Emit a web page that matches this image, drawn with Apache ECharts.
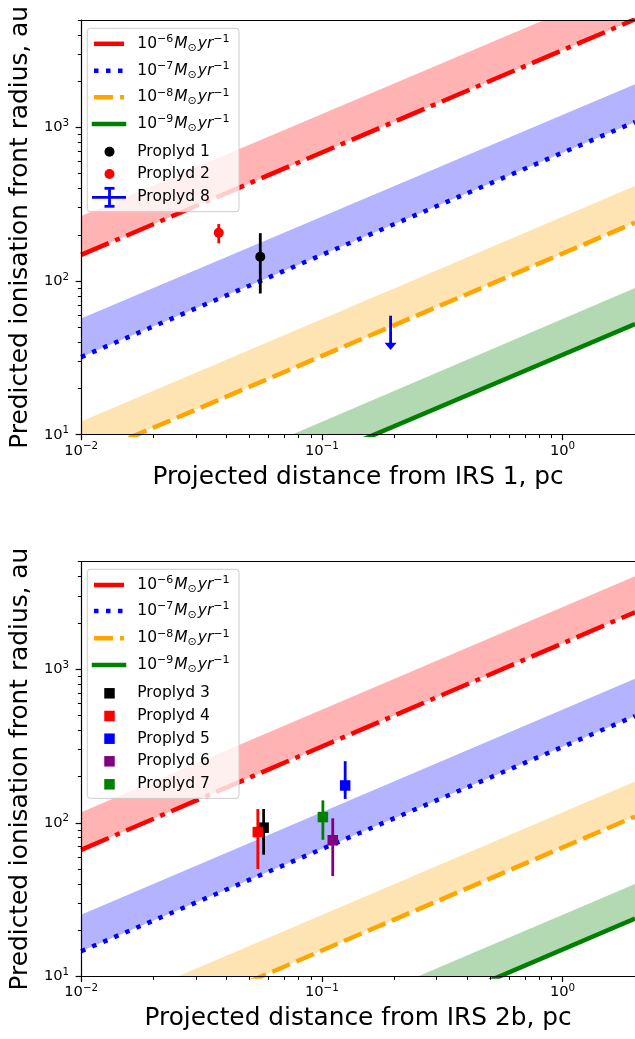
<!DOCTYPE html>
<html>
<head>
<meta charset="utf-8">
<script src="https://cdn.jsdelivr.net/npm/echarts@6/dist/echarts.min.js"></script>
<style>
  html, body { margin: 0; padding: 0; background: #ffffff; }
  #chart { width: 635px; height: 1039px; }
</style>
</head>
<body>
<div id="chart"></div>
<script>
// Projected distance range covered by the model curves (pc)
const distanceEnds = [0.01, 2];

// Mass-loss rates of the model curves (log10 of Msun/yr)
const massLossExponents = [-6, -7, -8, -9];

// IRS 1 panel: predicted ionisation-front radius (au) at the two distance ends
const irs1Model6 = [148, 5050];
const irs1Model7 = [32, 1085];
const irs1Model8 = [7.0, 240];
const irs1Model9 = [1.55, 52.5];
// upper edge of the shaded range for each rate
const irs1Upper6 = [265, 8900];
const irs1Upper7 = [57, 1910];
const irs1Upper8 = [12.2, 415];
const irs1Upper9 = [2.6, 90];

// IRS 2b panel
const irs2bModel6 = [66.7, 2345];
const irs2bModel7 = [14.6, 495];
const irs2bModel8 = [3.15, 110];
const irs2bModel9 = [0.69, 23.8];
const irs2bUpper6 = [117, 4020];
const irs2bUpper7 = [25.2, 865];
const irs2bUpper8 = [5.4, 186];
const irs2bUpper9 = [1.17, 40];

// Proplyds measured around IRS 1
const irs1Names = ['Proplyd 1', 'Proplyd 2'];
const irs1Distance = [0.0555, 0.0373];
const irs1Radius = [144, 206];
const irs1RadiusLow = [83, 176];
const irs1RadiusHigh = [205, 235];

// Proplyd 8: upper limit only
const limitNames = ['Proplyd 8'];
const limitDistance = [0.193];
const limitRadius = [59.5];
const limitArrowTip = [35.6];

// Proplyds measured around IRS 2b
const irs2bNames = ['Proplyd 3', 'Proplyd 4', 'Proplyd 5', 'Proplyd 6', 'Proplyd 7'];
const irs2bDistance = [0.0573, 0.0542, 0.125, 0.111, 0.101];
const irs2bRadius = [93, 87, 175, 77, 109];
const irs2bRadiusLow = [62, 50, 143, 45, 77.5];
const irs2bRadiusHigh = [123, 123, 252, 107, 140];

// Axis ticks
const xMajorTicks = [0.01, 0.1, 1];
const xMinorTicks = [0.02, 0.03, 0.04, 0.05, 0.06, 0.07, 0.08, 0.09,
                     0.2, 0.3, 0.4, 0.5, 0.6, 0.7, 0.8, 0.9, 2];
const yMajorTicks = [10, 100, 1000];
const yMinorTicks = [20, 30, 40, 50, 60, 70, 80, 90,
                     200, 300, 400, 500, 600, 700, 800, 900,
                     2000, 3000, 4000, 5000];
const xRange = [0.01, 2];
const yRange = [10, 5000];

// Styles
const FONT = 'DejaVu Sans';
const rateColors = ['#ff0000', '#0000ff', '#ffa500', '#008000'];
const bandColors = ['#ffb3b3', '#b3b3ff', '#ffe4b3', '#b3d9b3'];
const rateDash = [[30, 7, 5, 7], [4.5, 7.5], [19, 7], 'solid'];
const irs1Colors = ['#000000', '#ff0000'];
const limitColors = ['#0000ff'];
const irs2bColors = ['#000000', '#ff0000', '#0000ff', '#800080', '#008000'];

const panels = [
  {
    grid: { left: 79, top: 20, width: 557.6, height: 414.7 },
    xName: 'Projected distance from IRS 1, pc',
    models: [irs1Model6, irs1Model7, irs1Model8, irs1Model9],
    uppers: [irs1Upper6, irs1Upper7, irs1Upper8, irs1Upper9]
  },
  {
    grid: { left: 79, top: 561.7, width: 557.6, height: 414.8 },
    xName: 'Projected distance from IRS 2b, pc',
    models: [irs2bModel6, irs2bModel7, irs2bModel8, irs2bModel9],
    uppers: [irs2bUpper6, irs2bUpper7, irs2bUpper8, irs2bUpper9]
  }
];

const tickRich = {
  b: { fontSize: 14.7, fontFamily: FONT, color: '#000' },
  s: { fontSize: 10.3, fontFamily: FONT, color: '#000', padding: [0, 0, 8, 0] }
};
function powerLabel(value) {
  const e = Math.round(Math.log10(value));
  return '{b|10}{s|' + (e < 0 ? '\u2212' : '') + Math.abs(e) + '}';
}

// Sutherland-Hodgman clipping of a polygon against the plotting rectangle
function clipPolygon(points, rect) {
  const edges = [
    [p => p[0] >= rect.x, (a, b) => { const t = (rect.x - a[0]) / (b[0] - a[0]); return [rect.x, a[1] + t * (b[1] - a[1])]; }],
    [p => p[0] <= rect.x + rect.width, (a, b) => { const xx = rect.x + rect.width; const t = (xx - a[0]) / (b[0] - a[0]); return [xx, a[1] + t * (b[1] - a[1])]; }],
    [p => p[1] >= rect.y, (a, b) => { const t = (rect.y - a[1]) / (b[1] - a[1]); return [a[0] + t * (b[0] - a[0]), rect.y]; }],
    [p => p[1] <= rect.y + rect.height, (a, b) => { const yy = rect.y + rect.height; const t = (yy - a[1]) / (b[1] - a[1]); return [a[0] + t * (b[0] - a[0]), yy]; }]
  ];
  let out = points;
  edges.forEach(([inside, cut]) => {
    const input = out;
    out = [];
    for (let i = 0; i < input.length; i++) {
      const cur = input[i];
      const prev = input[(i + input.length - 1) % input.length];
      if (inside(cur)) {
        if (!inside(prev)) out.push(cut(prev, cur));
        out.push(cur);
      } else if (inside(prev)) {
        out.push(cut(prev, cur));
      }
    }
  });
  return out;
}

const xAxes = [];
const yAxes = [];
const series = [];
const minorTickStyle = { show: true, length: 3.3, lineStyle: { color: '#000', width: 1 } };
const spine = { show: true, onZero: false, lineStyle: { color: '#000', width: 1.2 } };
const noSpine = { show: false, onZero: false };

panels.forEach((panel, p) => {
  const xMain = xAxes.length;
  xAxes.push({
    type: 'log', logBase: 10, gridIndex: p, position: 'bottom', min: xRange[0], max: xRange[1], z: 10,
    axisLine: spine,
    axisTick: { show: true, customValues: xMajorTicks, length: 5.5, lineStyle: { color: '#000', width: 1.2 } },
    axisLabel: { customValues: xMajorTicks, formatter: powerLabel, rich: tickRich, margin: 7 },
    splitLine: { show: false },
    name: panel.xName, nameLocation: 'middle', nameGap: 30,
    nameTextStyle: { fontSize: 24.8, fontFamily: FONT, color: '#000' }
  });
  // minor ticks, laid out on a decade (log10) scale spanning the same range
  xAxes.push({
    type: 'value', gridIndex: p, position: 'bottom', offset: 0,
    min: Math.log10(xRange[0]), max: Math.log10(xRange[1]), z: 10,
    axisLine: noSpine,
    axisTick: Object.assign({ customValues: xMinorTicks.map(Math.log10) }, minorTickStyle),
    axisLabel: { show: false }, splitLine: { show: false }
  });
  xAxes.push({
    type: 'log', logBase: 10, gridIndex: p, position: 'top', min: xRange[0], max: xRange[1], z: 10,
    axisLine: spine,
    axisTick: { show: false }, axisLabel: { show: false }, splitLine: { show: false }
  });
  const yMain = yAxes.length;
  yAxes.push({
    type: 'log', logBase: 10, gridIndex: p, position: 'left', min: yRange[0], max: yRange[1], z: 10,
    axisLine: spine,
    axisTick: { show: true, customValues: yMajorTicks, length: 5.5, lineStyle: { color: '#000', width: 1.2 } },
    axisLabel: { customValues: yMajorTicks, formatter: powerLabel, rich: tickRich, margin: 12 },
    splitLine: { show: false },
    name: 'Predicted ionisation front radius, au', nameLocation: 'middle', nameGap: 43,
    nameTextStyle: { fontSize: 24.8, fontFamily: FONT, color: '#000' }
  });
  yAxes.push({
    type: 'value', gridIndex: p, position: 'left', offset: 0,
    min: Math.log10(yRange[0]), max: Math.log10(yRange[1]), z: 10,
    axisLine: noSpine,
    axisTick: Object.assign({ customValues: yMinorTicks.map(Math.log10) }, minorTickStyle),
    axisLabel: { show: false }, splitLine: { show: false }
  });

  // shaded ranges
  panel.models.forEach((model, k) => {
    series.push({
      type: 'custom', name: 'band' + p + k, xAxisIndex: xMain, yAxisIndex: yMain, z: 1, silent: true,
      data: distanceEnds.map((d, i) => [d, model[i], panel.uppers[k][i]]),
      encode: { x: 0, y: [1, 2] },
      renderItem(params, api) {
        if (params.dataIndexInside !== 0) return null;
        const n = params.dataInsideLength;
        const lower = [], upper = [];
        for (let i = 0; i < n; i++) {
          lower.push(api.coord([api.value(0, i), api.value(1, i)]));
          upper.push(api.coord([api.value(0, i), api.value(2, i)]));
        }
        const pts = clipPolygon(lower.concat(upper.reverse()), params.coordSys);
        if (pts.length < 3) return null;
        return { type: 'polygon', shape: { points: pts }, style: { fill: bandColors[k] } };
      }
    });
  });
  // model curves
  panel.models.forEach((model, k) => {
    series.push({
      type: 'line', name: 'rate' + p + k, xAxisIndex: xMain, yAxisIndex: yMain, z: 2, silent: true,
      data: distanceEnds.map((d, i) => [d, model[i]]),
      symbol: 'none', clip: true,
      lineStyle: { color: rateColors[k], width: 4.5, type: rateDash[k], cap: 'butt' }
    });
  });
});

function pointSeries(xIdx, yIdx, dist, rad, lo, hi, colors, marker) {
  return {
    type: 'custom', xAxisIndex: xIdx, yAxisIndex: yIdx, z: 3, silent: true,
    data: dist.map((d, i) => [d, rad[i], lo[i], hi[i]]),
    encode: { x: 0, y: [1, 2, 3] },
    renderItem(params, api) {
      const c = colors[params.dataIndex];
      const ctr = api.coord([api.value(0), api.value(1)]);
      const bot = api.coord([api.value(0), api.value(2)]);
      const top = api.coord([api.value(0), api.value(3)]);
      const mark = marker === 'circle'
        ? { type: 'circle', shape: { cx: ctr[0], cy: ctr[1], r: 5 }, style: { fill: c } }
        : { type: 'rect', shape: { x: ctr[0] - 5.25, y: ctr[1] - 5.25, width: 10.5, height: 10.5 }, style: { fill: c } };
      return {
        type: 'group',
        children: [
          { type: 'line', shape: { x1: top[0], y1: top[1], x2: bot[0], y2: bot[1] }, style: { stroke: c, lineWidth: 2.8 } },
          mark
        ]
      };
    }
  };
}

series.push(pointSeries(0, 0, irs1Distance, irs1Radius, irs1RadiusLow, irs1RadiusHigh, irs1Colors, 'circle'));
series.push({
  type: 'custom', xAxisIndex: 0, yAxisIndex: 0, z: 3, silent: true,
  data: limitDistance.map((d, i) => [d, limitRadius[i], limitArrowTip[i]]),
  encode: { x: 0, y: [1, 2] },
  renderItem(params, api) {
    const c = limitColors[params.dataIndex];
    const top = api.coord([api.value(0), api.value(1)]);
    const tip = api.coord([api.value(0), api.value(2)]);
    const head = 7.3;
    return {
      type: 'group',
      children: [
        { type: 'line', shape: { x1: top[0], y1: top[1], x2: tip[0], y2: tip[1] - head + 1 }, style: { stroke: c, lineWidth: 2.8 } },
        { type: 'polygon', shape: { points: [[tip[0] - 6, tip[1] - head], [tip[0] + 6, tip[1] - head], [tip[0], tip[1]]] }, style: { fill: c } }
      ]
    };
  }
});
series.push(pointSeries(3, 2, irs2bDistance, irs2bRadius, irs2bRadiusLow, irs2bRadiusHigh, irs2bColors, 'square'));

// Legend boxes
const massRich = {
  b: { fontSize: 15.5, fontFamily: FONT, fill: '#000' },
  p: { fontSize: 11, fontFamily: FONT, fill: '#000', padding: [0, 0, 9, 0] },
  i: { fontSize: 15.5, fontFamily: FONT, fontStyle: 'italic', fill: '#000', padding: [0, 0, 0, 1] },
  d: { fontSize: 11, fontFamily: FONT, fill: '#000', padding: [8, 0, 0, 0] }
};
function massLabel(e) {
  return '{b|10}{p|\u2212' + (-e) + '}{i|M}{d|\u2299}{i|yr}{p|\u22121}';
}

function legendElements(box, rowOffsets, entries) {
  const els = [{
    type: 'rect', z: 100, silent: true,
    shape: { x: box.x, y: box.y, width: box.w, height: box.h, r: 3 },
    style: { fill: 'rgba(255,255,255,0.8)', stroke: '#cccccc', lineWidth: 1 }
  }];
  const hx0 = 94, hx1 = 124, hc = 109.5, tx = 137.3;
  entries.forEach((en, k) => {
    const cy = box.y + rowOffsets[k];
    if (en.kind === 'line') {
      const dash = Array.isArray(en.dash) ? en.dash : null;
      els.push({
        type: 'line', z: 101, silent: true,
        shape: { x1: hx0, y1: cy, x2: hx1, y2: cy },
        style: { stroke: en.color, lineWidth: 4.5, lineDash: dash, lineCap: dash ? 'butt' : 'square' }
      });
    } else if (en.kind === 'circle') {
      els.push({ type: 'circle', z: 101, silent: true, shape: { cx: hc, cy: cy, r: 5 }, style: { fill: en.color } });
    } else if (en.kind === 'square') {
      els.push({ type: 'rect', z: 101, silent: true, shape: { x: hc - 5.25, y: cy - 5.25, width: 10.5, height: 10.5 }, style: { fill: en.color } });
    } else if (en.kind === 'errorbar') {
      const st = { stroke: en.color, lineWidth: 2.8 };
      els.push({ type: 'line', z: 101, silent: true, shape: { x1: hx0 - 2, y1: cy, x2: hx1 + 2, y2: cy }, style: st });
      els.push({ type: 'line', z: 101, silent: true, shape: { x1: hc, y1: cy - 9, x2: hc, y2: cy + 9 }, style: st });
      els.push({ type: 'line', z: 101, silent: true, shape: { x1: hc - 5, y1: cy - 9, x2: hc + 5, y2: cy - 9 }, style: st });
      els.push({ type: 'line', z: 101, silent: true, shape: { x1: hc - 5, y1: cy + 9, x2: hc + 5, y2: cy + 9 }, style: st });
    }
    els.push({
      type: 'text', z: 101, silent: true,
      style: en.rich
        ? { text: en.text, x: tx, y: cy, rich: massRich, verticalAlign: 'middle', align: 'left' }
        : { text: en.text, x: tx, y: cy, fontSize: 15.5, fontFamily: FONT, fill: '#000', verticalAlign: 'middle', align: 'left' }
    });
  });
  return els;
}

const rateEntries = massLossExponents.map((e, k) => ({ kind: 'line', color: rateColors[k], dash: rateDash[k], text: massLabel(e), rich: true }));

const topEntries = rateEntries
  .concat(irs1Names.map((n, i) => ({ kind: 'circle', color: irs1Colors[i], text: n })))
  .concat(limitNames.map((n, i) => ({ kind: 'errorbar', color: limitColors[i], text: n })));
const bottomEntries = rateEntries
  .concat(irs2bNames.map((n, i) => ({ kind: 'square', color: irs2bColors[i], text: n })));

const graphics = legendElements({ x: 87.3, y: 28.3, w: 151.7, h: 183.4 }, [15.5, 42.4, 69, 95.7, 123.4, 145.7, 169], topEntries)
  .concat(legendElements({ x: 87.3, y: 569.3, w: 151.7, h: 229 }, [15.7, 41.7, 69, 95.7, 124, 146.7, 169.4, 192, 215], bottomEntries));

const chart = echarts.init(document.getElementById('chart'), null, { renderer: 'canvas' });
chart.setOption({
  animation: false,
  backgroundColor: '#ffffff',
  textStyle: { fontFamily: FONT },
  grid: panels.map(pn => Object.assign({ containLabel: false }, pn.grid)),
  xAxis: xAxes,
  yAxis: yAxes,
  series: series,
  graphic: { elements: graphics }
});
</script>
</body>
</html>
